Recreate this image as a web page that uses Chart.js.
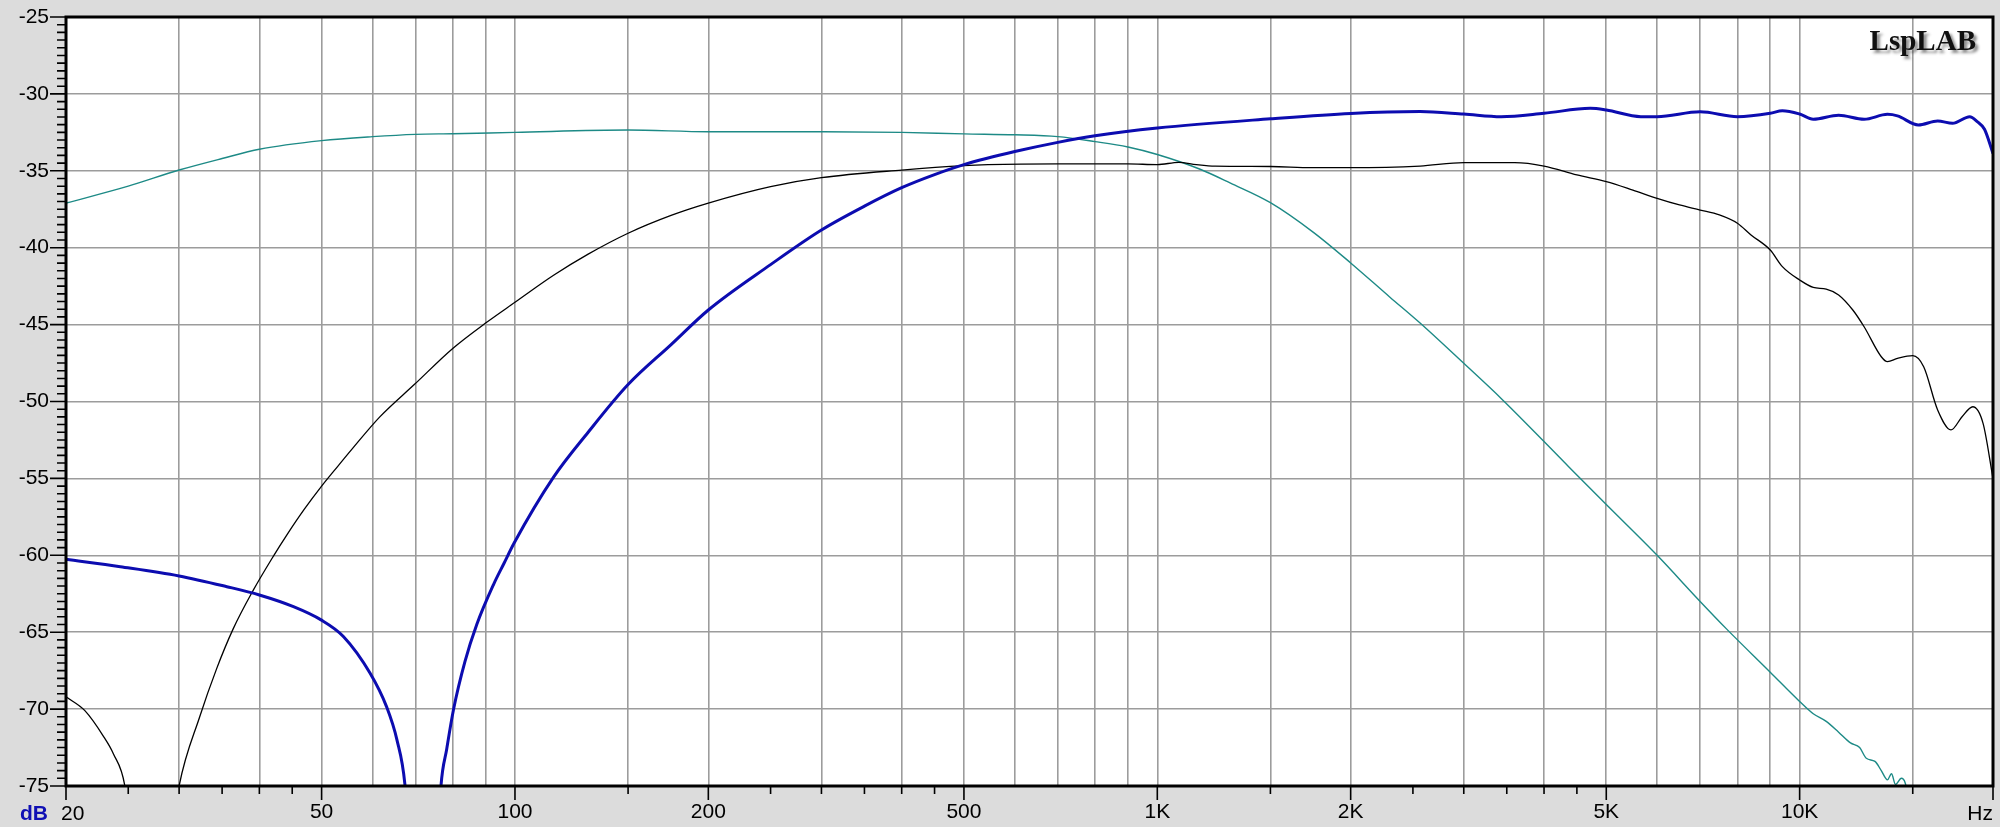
<!DOCTYPE html>
<html lang="en">
<head>
<meta charset="UTF-8" />
<title>LspLAB frequency response</title>
<script src="https://cdn.jsdelivr.net/npm/chart.js"></script>
<style>
  html, body { margin: 0; padding: 0; background: #dcdcdc; }
  #wrap { width: 2000px; height: 827px; }
</style>
</head>
<body>
<div id="wrap"><canvas id="fr" width="2000" height="827"></canvas></div>
<script>
// teal curve (low pass)
const tealHz = [20, 25, 30, 35, 40, 50, 60, 70, 80, 100, 150, 200, 300, 400, 500, 600, 700, 800, 900, 1000,
  1166, 1300, 1500, 1750, 2000, 2300, 2565, 3000, 3430, 4000, 4420, 5000, 6000, 7000, 7700, 9000, 10000,
  10500, 11000, 11500, 12000, 12400, 12700, 13100, 13400, 13700, 13900, 14100, 14400, 14600, 14700, 15000]
const tealDb = [-37.1, -36.0, -34.95, -34.2, -33.6, -33.04, -32.78, -32.63, -32.59, -32.5, -32.35, -32.46, -32.46, -32.5, -32.6, -32.66, -32.78, -33.1, -33.45, -33.94,
  -34.9, -35.8, -37.07, -39.0, -40.99, -43.2, -44.9, -47.52, -49.8, -52.6, -54.45, -56.7, -60.0, -63.0, -64.8, -67.6, -69.5,
  -70.3, -70.8, -71.5, -72.2, -72.5, -73.2, -73.4, -74.0, -74.6, -74.2, -74.9, -74.5, -74.8, -75.4, -78]

// black curve (band pass)
const blackHz = [20, 21.4, 22.9, 23.7, 24.7, 25.5, 27, 28.8, 30, 32.3, 34.3, 36.4, 39.1, 42, 44.1, 47, 50, 52.3, 56, 61.6,
  69.7, 80, 90, 100, 115, 130, 150, 175, 200, 250, 300, 400, 500, 545, 700, 900, 1000, 1080, 1150, 1230, 1500, 1740,
  2000, 2565, 3000, 3600, 4000, 4500, 5000, 5500, 6000, 6500, 7000, 7500, 8000, 8400, 9000, 9400, 10000, 10500, 11000,
  11500, 12100, 12600, 13400, 13700, 14200, 15000, 15600, 16400, 17200, 17900, 18600, 19300, 20000]
const blackDb = [-69.2, -70.1, -71.8, -72.9, -75, -80, -95, -80, -75, -70.5, -67.4, -64.8, -62.3, -60.1, -58.7, -57.0, -55.5, -54.5, -53.0, -51.0,
  -48.9, -46.55, -44.9, -43.55, -41.78, -40.42, -39.06, -37.9, -37.1, -36.03, -35.45, -34.95, -34.66, -34.6, -34.55, -34.55, -34.6, -34.45, -34.6, -34.7, -34.72, -34.8,
  -34.8, -34.69, -34.47, -34.47, -34.69, -35.27, -35.7, -36.25, -36.79, -37.22, -37.55, -37.87, -38.41, -39.17, -40.15, -41.23, -42.1, -42.58, -42.69,
  -43.07, -44.05, -45.14, -47.09, -47.41, -47.2, -47.02, -47.74, -50.55, -51.85, -50.99, -50.34, -51.42, -55]

// blue curve (high pass, thick)
const blueHz = [20, 24.3, 30, 35.6, 40, 45.2, 49.9, 54.1, 59.5, 63.1, 65.5, 67.4, 70, 72, 74.5, 76.7, 78.3, 80.2, 83.6, 87.2,
  92.6, 96.2, 99.7, 114.7, 130, 150, 175, 200, 250, 300, 350, 400, 450, 500, 600, 700, 800, 1000, 1500, 2000, 2565, 3000,
  3430, 4000, 4720, 5000, 5660, 6000, 7000, 8000, 9000, 9400, 10000, 10500, 11500, 12600, 13700, 14200, 15300, 16400,
  17300, 18400, 18900, 19400, 20000]
const blueDb = [-60.26, -60.74, -61.34, -62.04, -62.58, -63.34, -64.2, -65.29, -67.67, -69.84, -72.0, -74.9, -85, -95, -85, -75, -72.6, -70.06, -66.9, -64.5,
  -61.9, -60.5, -59.2, -54.95, -52.0, -48.9, -46.3, -44.05, -41.1, -38.85, -37.3, -36.1, -35.25, -34.6, -33.75, -33.15, -32.72, -32.22, -31.62, -31.27, -31.15, -31.31,
  -31.48, -31.26, -30.94, -31.05, -31.48, -31.48, -31.16, -31.48, -31.26, -31.09, -31.31, -31.65, -31.39, -31.65, -31.33, -31.43, -32.02, -31.76,
  -31.91, -31.48, -31.8, -32.3, -33.87]

// axis
const gridHz = [20, 30, 40, 50, 60, 70, 80, 90, 100, 150, 200, 300, 400, 500, 600, 700, 800, 900,
  1000, 1500, 2000, 3000, 4000, 5000, 6000, 7000, 8000, 9000, 10000, 15000, 20000]
const labelHz = [50, 100, 200, 500, 1000, 2000, 5000, 10000]
const labelText = ["50", "100", "200", "500", "1K", "2K", "5K", "10K"]
const longTickHz = [20, 50, 100, 200, 500, 1000, 2000, 5000, 10000, 20000]
const shortTickHz = [25, 30, 35, 40, 45, 150, 250, 300, 350, 400, 450, 1500, 2500, 3000, 3500, 4000, 4500, 15000]

const pts = (hz, db) => hz.map((f, i) => ({ x: f, y: db[i] }))

const FONT = '"Liberation Sans", Arial, sans-serif'

// frame, tick marks, extra texts
const framePlugin = {
  id: "frame",
  beforeDraw(chart) {
    const { ctx, chartArea: a } = chart
    ctx.save()
    ctx.fillStyle = "#fff"
    ctx.fillRect(a.left, a.top, a.right - a.left, a.bottom - a.top)
    ctx.restore()
  },
  afterDraw(chart) {
    const { ctx, chartArea: a, scales } = chart
    const x = scales.x, y = scales.y
    ctx.save()
    ctx.strokeStyle = "#000"
    ctx.lineWidth = 1.6
    ctx.beginPath()
    // y ticks every 0.5 dB
    for (let v = -75; v <= -25; v += 0.5) {
      const py = y.getPixelForValue(v)
      const len = v % 5 === 0 ? 16 : 9
      ctx.moveTo(a.left - len, py)
      ctx.lineTo(a.left, py)
    }
    // x ticks
    longTickHz.forEach((f) => {
      const px = x.getPixelForValue(f)
      ctx.moveTo(px, a.bottom)
      ctx.lineTo(px, a.bottom + 14)
    })
    shortTickHz.forEach((f) => {
      const px = x.getPixelForValue(f)
      ctx.moveTo(px, a.bottom)
      ctx.lineTo(px, a.bottom + 8)
    })
    ctx.stroke()

    // border
    ctx.lineWidth = 3
    ctx.strokeRect(a.left, a.top, a.right - a.left, a.bottom - a.top)

    // texts
    ctx.textBaseline = "alphabetic"
    ctx.fillStyle = "#000"
    ctx.font = "21px " + FONT
    ctx.textAlign = "left"
    ctx.fillText("20", x.getPixelForValue(20) - 5, 820)
    ctx.textAlign = "right"
    ctx.fillText("Hz", x.getPixelForValue(20000), 820)
    ctx.fillStyle = "#1010b4"
    ctx.font = "bold 21px " + FONT
    ctx.fillText("dB", 48, 820)

    // logo
    ctx.font = 'bold 29px "Liberation Serif", "Times New Roman", serif'
    ctx.fillStyle = "#111"
    ctx.shadowColor = "rgba(0,0,0,0.45)"
    ctx.shadowOffsetX = 3
    ctx.shadowOffsetY = 3
    ctx.shadowBlur = 3
    ctx.fillText("LspLAB", 1976, 50)
    ctx.restore()
  },
}

const ctx = document.getElementById("fr").getContext("2d")
new Chart(ctx, {
  type: "line",
  data: {
    datasets: [
      {
        data: pts(blueHz, blueDb),
        borderColor: "#0c0cb0",
        borderWidth: 3,
        order: 1,
      },
      {
        data: pts(blackHz, blackDb),
        borderColor: "#000",
        borderWidth: 1.3,
        order: 2,
      },
      {
        data: pts(tealHz, tealDb),
        borderColor: "#1d8a86",
        borderWidth: 1.4,
        order: 3,
      },
    ],
  },
  options: {
    responsive: false,
    animation: false,
    events: [],
    layout: { padding: { left: 0, top: 17, right: 7, bottom: 0 } },
    elements: {
      point: { radius: 0 },
      line: { cubicInterpolationMode: "monotone", fill: false },
    },
    plugins: { legend: { display: false }, tooltip: { enabled: false } },
    scales: {
      x: {
        type: "logarithmic",
        min: 20,
        max: 20000,
        afterBuildTicks: (s) => {
          s.ticks = gridHz.map((v) => ({ value: v }))
        },
        afterFit: (s) => {
          s.height = 41
          s.paddingLeft = 0
          s.paddingRight = 0
        },
        ticks: {
          autoSkip: false,
          maxRotation: 0,
          padding: 14,
          color: "#000",
          font: { family: FONT, size: 21 },
          callback: (v) => {
            const i = labelHz.indexOf(v)
            return i >= 0 ? labelText[i] : ""
          },
        },
        grid: { color: "#9c9c9c", lineWidth: 1.6, drawTicks: false },
        border: { display: false },
      },
      y: {
        type: "linear",
        min: -75,
        max: -25,
        afterFit: (s) => {
          s.width = 66
          s.paddingTop = 0
          s.paddingBottom = 0
        },
        ticks: {
          stepSize: 5,
          padding: 17,
          color: "#000",
          font: { family: FONT, size: 21 },
          callback: (v) => String(v),
        },
        grid: { color: "#9c9c9c", lineWidth: 1.6, drawTicks: false },
        border: { display: false },
      },
    },
  },
  plugins: [framePlugin],
})
</script>
</body>
</html>
